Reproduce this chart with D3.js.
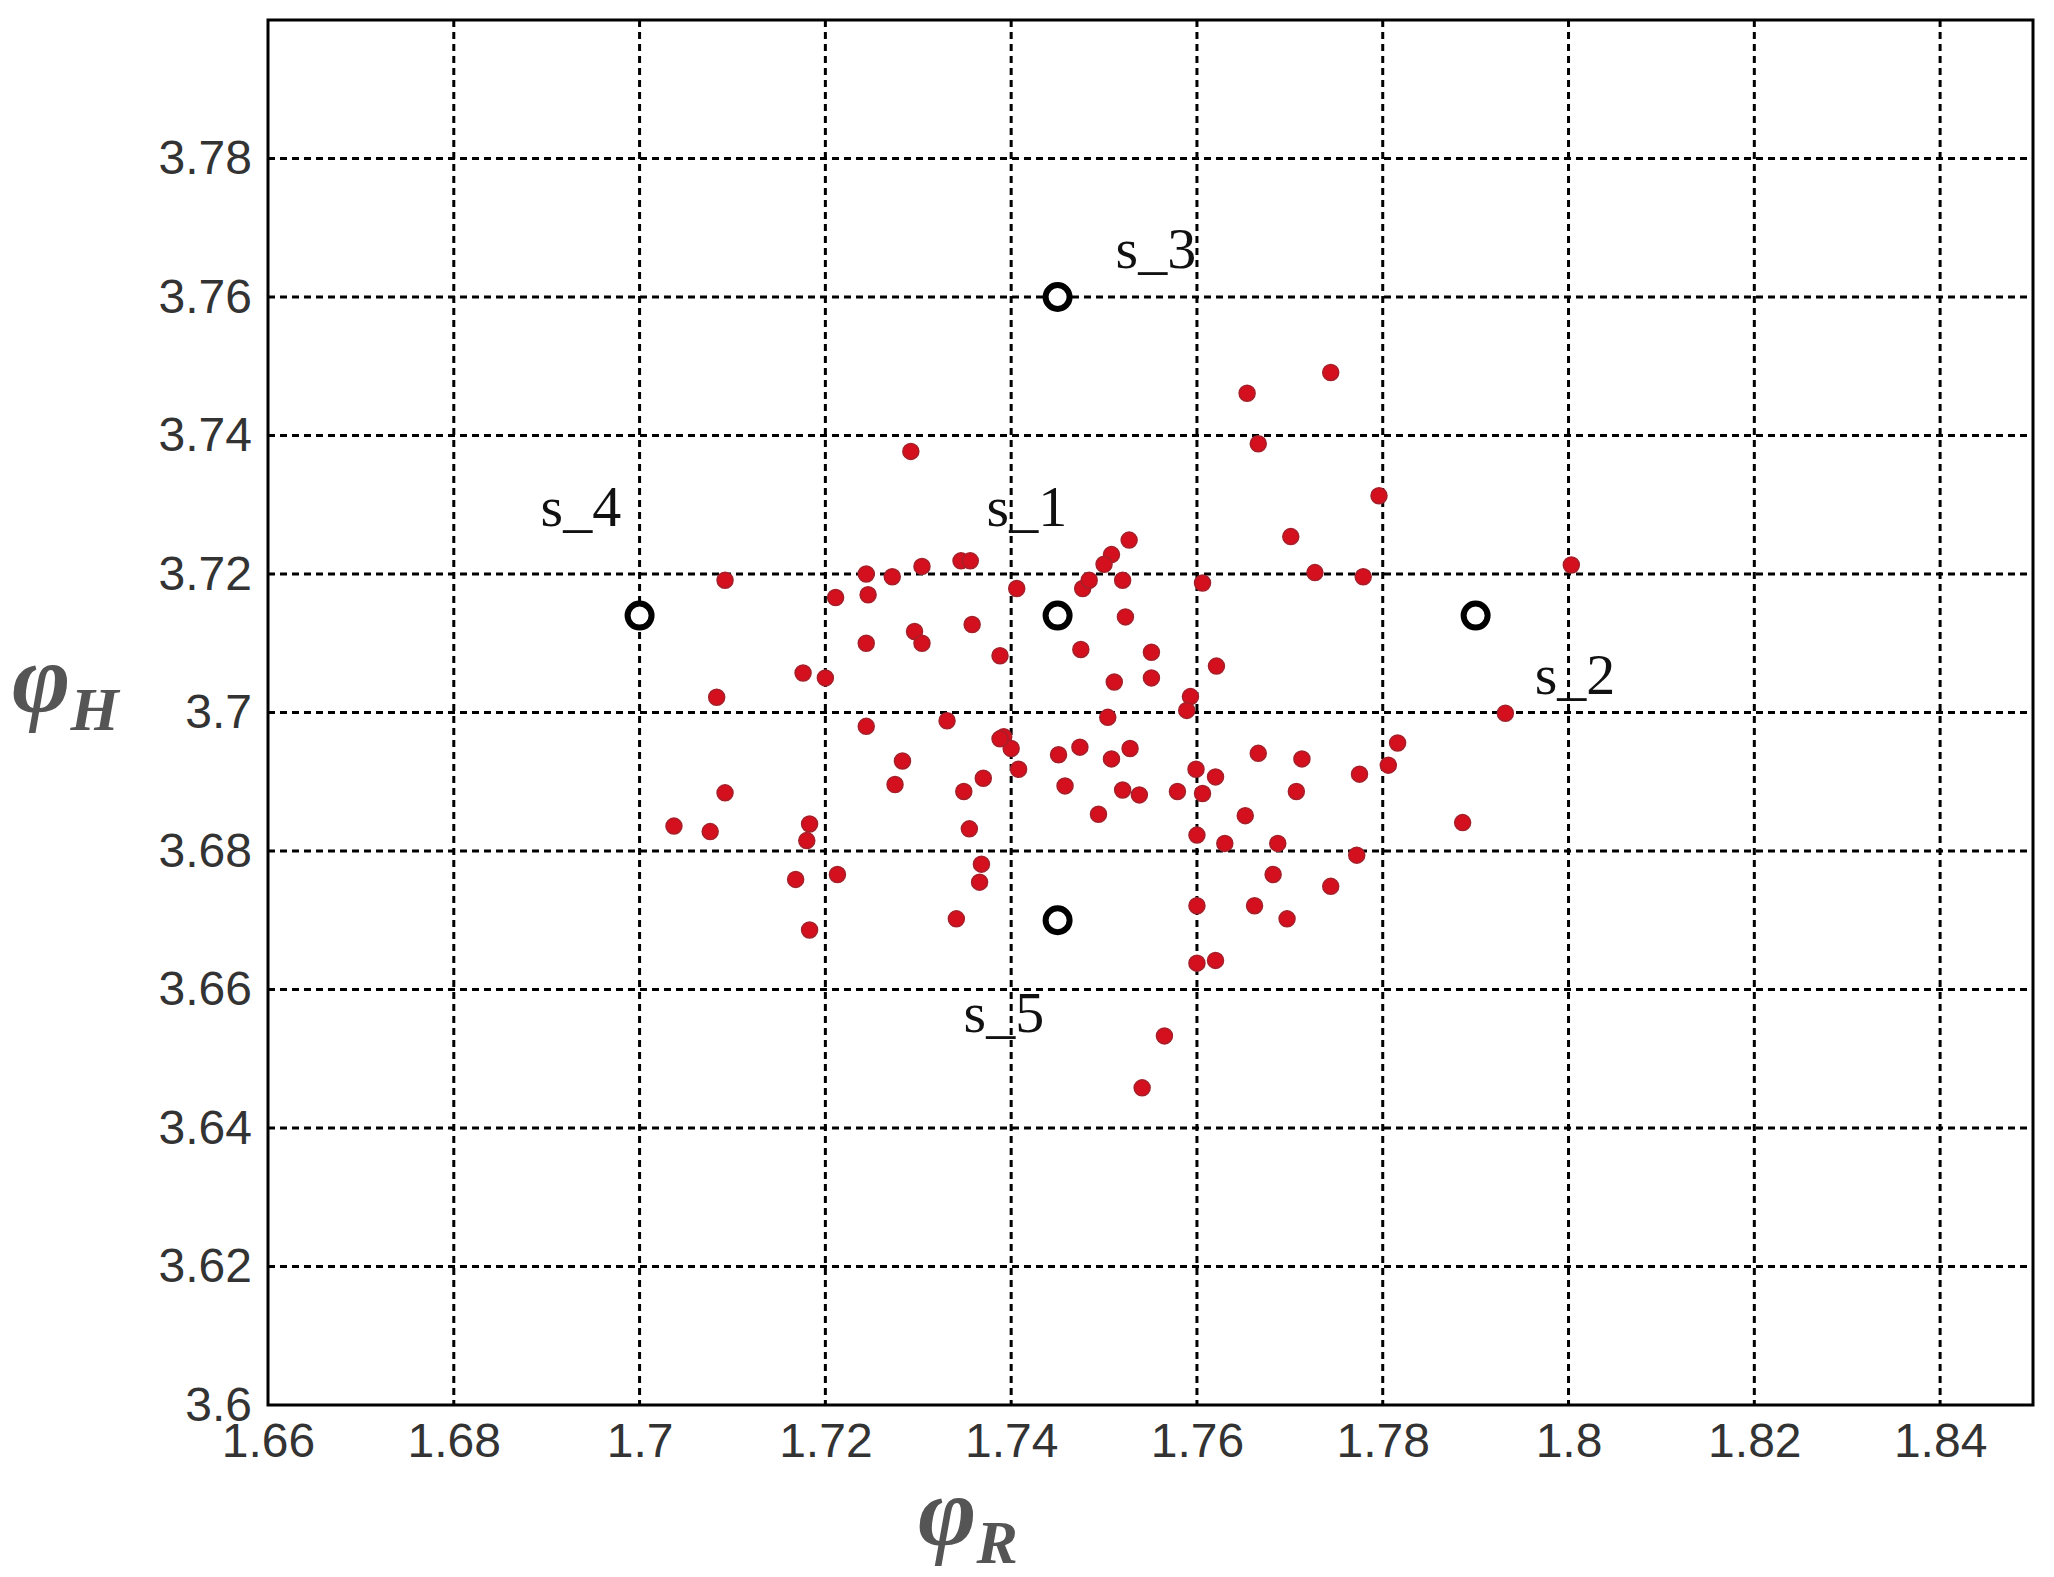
<!DOCTYPE html>
<html>
<head>
<meta charset="utf-8">
<script src="https://cdn.jsdelivr.net/npm/d3@7"></script>
<style>
  body { margin: 0; background: #fff; }
  .tick text { font-family: "Liberation Sans", Arial, sans-serif; fill: #333; }
</style>
</head>
<body>
<div id="chart"></div>
<script>
// point cloud (phi_R, phi_H)
const phiR = [1.7292,1.7744,1.7654,1.7666,1.7796,1.7701,1.7727,1.7779,1.8003,1.7932,
  1.7092,1.7211,1.7244,1.7246,1.7272,1.7304,1.7346,1.7356,1.7406,1.7477,
  1.7484,1.7508,1.7527,1.7520,1.7523,1.7606,1.7621,1.7244,1.7296,1.7304,
  1.7358,1.7388,1.7475,1.7511,1.7551,1.7551,1.7593,1.7589,1.7176,1.7200,
  1.7083,1.7244,1.7331,1.7392,1.7400,1.7408,1.7451,1.7474,1.7504,1.7508,
  1.7528,1.7283,1.7275,1.7370,1.7349,1.7458,1.7520,1.7538,1.7494,1.7579,
  1.7599,1.7606,1.7620,1.7666,1.7713,1.7707,1.7775,1.7806,1.7816,1.7092,
  1.7037,1.7076,1.7183,1.7180,1.7168,1.7213,1.7183,1.7355,1.7368,1.7366,
  1.7341,1.7600,1.7630,1.7652,1.7687,1.7772,1.7682,1.7600,1.7662,1.7697,
  1.7744,1.7886,1.7600,1.7620,1.7565,1.7541,1.7388,1.7500];
const phiH = [3.7377,3.7491,3.7461,3.7388,3.7313,3.7254,3.7202,3.7196,3.7213,3.6999,
  3.7191,3.7166,3.7200,3.7170,3.7196,3.7211,3.7219,3.7219,3.7179,3.7179,
  3.7191,3.7228,3.7249,3.7191,3.7138,3.7187,3.7067,3.7100,3.7117,3.7100,
  3.7127,3.7082,3.7091,3.7044,3.7087,3.7050,3.7023,3.7003,3.7057,3.7050,
  3.7022,3.6980,3.6988,3.6965,3.6948,3.6918,3.6939,3.6950,3.6993,3.6933,
  3.6948,3.6930,3.6896,3.6905,3.6886,3.6894,3.6888,3.6881,3.6853,3.6886,
  3.6918,3.6883,3.6907,3.6941,3.6933,3.6886,3.6911,3.6924,3.6956,3.6884,
  3.6836,3.6828,3.6839,3.6815,3.6759,3.6766,3.6686,3.6832,3.6781,3.6755,
  3.6702,3.6823,3.6811,3.6851,3.6811,3.6794,3.6766,3.6721,3.6721,3.6702,
  3.6749,3.6841,3.6638,3.6642,3.6533,3.6458,3.6962,3.7214];

// reference states
const sNames = ["s_1", "s_2", "s_3", "s_4", "s_5"];
const sR = [1.745, 1.79, 1.745, 1.70, 1.745];
const sH = [3.714, 3.714, 3.76, 3.714, 3.67];
const sDx = [-71, 59, 58, -99, -94];
const sDy = [-90, 78, -29, -90, 112];

const xTicks = [1.66,1.68,1.7,1.72,1.74,1.76,1.78,1.8,1.82,1.84];
const yTicks = [3.6,3.62,3.64,3.66,3.68,3.7,3.72,3.74,3.76,3.78];

const W = 2054, H = 1577;
const m = { left: 268, right: 21, top: 20, bottom: 172 };
const w = W - m.left - m.right, h = H - m.top - m.bottom;

const svg = d3.select("#chart").append("svg").attr("width", W).attr("height", H);
const g = svg.append("g").attr("transform", `translate(${m.left},${m.top})`);

const x = d3.scaleLinear().domain([1.66, 1.85]).range([0, w]);
const y = d3.scaleLinear().domain([3.6, 3.8]).range([h, 0]);
const fmt = d => String(+d.toFixed(2));

// grid
g.selectAll(".gx").data(xTicks.slice(1)).enter().append("line")
  .attr("x1", d => x(d)).attr("x2", d => x(d)).attr("y1", 0).attr("y2", h)
  .attr("stroke", "#000").attr("stroke-width", 3).attr("stroke-dasharray", "7,5");
g.selectAll(".gy").data(yTicks.slice(1)).enter().append("line")
  .attr("y1", d => y(d)).attr("y2", d => y(d)).attr("x1", 0).attr("x2", w)
  .attr("stroke", "#000").attr("stroke-width", 3).attr("stroke-dasharray", "7,5");

// axes
const xa = g.append("g").attr("transform", `translate(0,${h})`)
  .call(d3.axisBottom(x).tickValues(xTicks).tickFormat(fmt).tickSize(0).tickPadding(38));
const ya = g.append("g")
  .call(d3.axisLeft(y).tickValues(yTicks).tickFormat(fmt).tickSize(0).tickPadding(16));
[xa, ya].forEach(a => { a.select(".domain").remove(); a.selectAll("text").attr("font-size", 48); });
xa.selectAll("text").attr("dy", "0.3em");

g.append("rect").attr("width", w).attr("height", h)
  .attr("fill", "none").attr("stroke", "#000").attr("stroke-width", 3);

// points
g.selectAll(".pt").data(phiR.map((r, i) => [r, phiH[i]])).enter().append("circle")
  .attr("cx", d => x(d[0])).attr("cy", d => y(d[1])).attr("r", 8)
  .attr("fill", "#d4101e").attr("stroke", "#a5202a").attr("stroke-width", 1.5);

// states
const st = g.selectAll(".s").data(sNames).enter().append("g")
  .attr("transform", (d, i) => `translate(${x(sR[i])},${y(sH[i])})`);
st.append("circle").attr("r", 12).attr("fill", "#fff")
  .attr("stroke", "#000").attr("stroke-width", 6);
st.append("text").text(d => d)
  .attr("x", (d, i) => sDx[i]).attr("y", (d, i) => sDy[i])
  .attr("font-family", "Liberation Serif, Times New Roman, serif")
  .attr("font-size", 58).attr("fill", "#111");

// axis titles
const t1 = svg.append("text").attr("x", 12).attr("y", 712)
  .attr("font-family", "Liberation Serif, serif").attr("font-style", "italic")
  .attr("font-weight", "bold").attr("fill", "#555");
t1.append("tspan").attr("font-size", 100).text("φ");
t1.append("tspan").attr("font-size", 62).attr("dy", 18).text("H");

const t2 = svg.append("text").attr("x", 918).attr("y", 1545)
  .attr("font-family", "Liberation Serif, serif").attr("font-style", "italic")
  .attr("font-weight", "bold").attr("fill", "#555");
t2.append("tspan").attr("font-size", 100).text("φ");
t2.append("tspan").attr("font-size", 62).attr("dy", 18).text("R");
</script>
</body>
</html>
